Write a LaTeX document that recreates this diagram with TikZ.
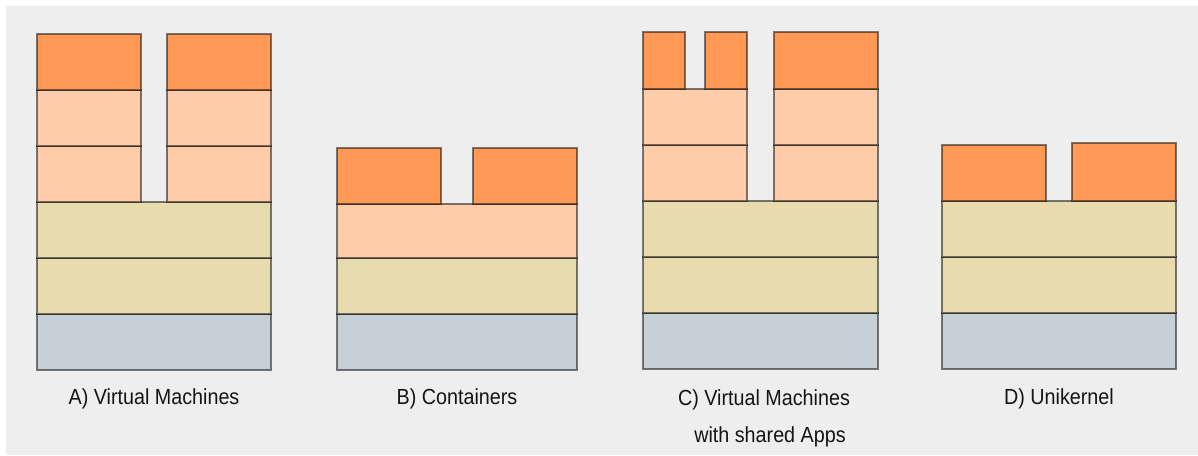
\documentclass[tikz,border=0pt]{standalone}
\usepackage{fontspec}
\usepackage{graphicx}
\setmainfont{Liberation Sans}
\definecolor{app}{HTML}{FF9955}
\definecolor{guest}{HTML}{FFCCAA}
\definecolor{host}{HTML}{E8DCAF}
\definecolor{metal}{HTML}{C8D0D7}
\definecolor{panel}{HTML}{EEEEEE}
\definecolor{ink}{HTML}{141414}
\tikzset{
  layer/.style={draw=black, draw opacity=0.5, line width=1.3pt},
  caption/.style={anchor=base, text=ink, inner sep=0pt,
    font=\fontsize{21}{25}\selectfont}
}
% one stacked layer: colour, x1, y1, x2, y2 (pixel grid, y downwards)
\newcommand{\slab}[5]{\path[layer, fill=#1] (#2,#3) rectangle (#4,#5);}
% slightly narrowed caption lettering
\newcommand{\captext}[1]{\scalebox{0.94}[1.04]{#1}}
\begin{document}
\begin{tikzpicture}[x=1pt, y=-1pt]
\useasboundingbox (0,0) rectangle (1198,455);
\fill[white] (0,0) rectangle (1198,455);
\fill[panel] (6,6) rectangle (1198,455);

% A) virtual machines
\slab{metal}{37}{314}{271}{370}
\slab{host}{37}{258}{271}{314}
\slab{host}{37}{202}{271}{258}
\foreach \xa/\xb in {37/141, 167/271}{
  \slab{guest}{\xa}{146}{\xb}{202}
  \slab{guest}{\xa}{90}{\xb}{146}
  \slab{app}{\xa}{34}{\xb}{90}
}
\node[caption] (capA) at (154,404) {\captext{A) Virtual Machines}};

% B) containers
\slab{metal}{337}{314}{577}{370}
\slab{host}{337}{258}{577}{314}
\slab{guest}{337}{204}{577}{258}
\slab{app}{337}{148}{441}{204}
\slab{app}{473}{148}{577}{204}
\node[caption] (capB) at (457,404) {\captext{B) Containers}};

% C) virtual machines with shared apps
\slab{metal}{643}{313}{878}{369}
\slab{host}{643}{257}{878}{313}
\slab{host}{643}{201}{878}{257}
\foreach \xa/\xb in {643/747, 774/878}{
  \slab{guest}{\xa}{145}{\xb}{201}
  \slab{guest}{\xa}{89}{\xb}{145}
}
\slab{app}{643}{32}{685}{89}
\slab{app}{705}{32}{747}{89}
\slab{app}{774}{32}{878}{89}
\node[caption] (capC1) at (764,405) {\captext{C) Virtual Machines}};
\node[caption] (capC2) at (770,442) {\captext{with shared Apps}};

% D) unikernel
\slab{metal}{942}{313}{1176}{369}
\slab{host}{942}{257}{1176}{313}
\slab{host}{942}{201}{1176}{257}
\slab{app}{942}{145}{1046}{201}
\slab{app}{1072}{143}{1176}{201}
\node[caption] (capD) at (1059,404) {\captext{D) Unikernel}};
\end{tikzpicture}
\end{document}
